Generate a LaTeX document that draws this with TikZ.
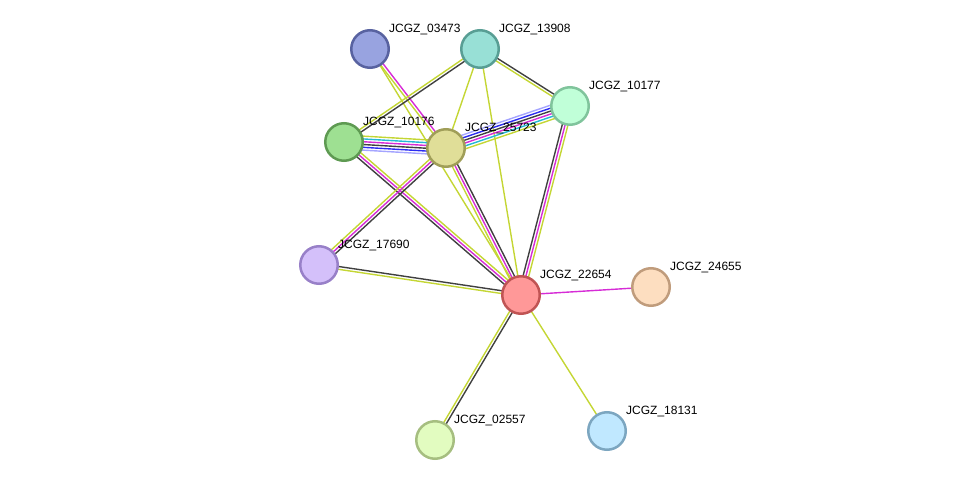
\documentclass[tikz,border=0pt]{standalone}
\usepackage{fontspec}
\setmainfont{Liberation Sans}
\usetikzlibrary{calc,backgrounds}

% evidence colours
\definecolor{TextMining}{RGB}{196,214,52}
\definecolor{Experiments}{RGB}{214,44,214}
\definecolor{Coexpression}{RGB}{64,64,64}
\definecolor{Databases}{RGB}{36,184,212}
\definecolor{Cooccurrence}{RGB}{44,44,240}
\definecolor{Homology}{RGB}{164,164,255}

% a bundle of parallel lines between two nodes
\newcommand{\Bundle}[4]{%
  \foreach \c [count=\i] in {#4} {%
    \pgfmathsetmacro{\off}{((#3+1)/2-\i)*2.8}
    \draw[EdgeStyle, draw=\c] ($(#1.center)!\off pt!90:(#2.center)$) -- ($(#2.center)!\off pt!-90:(#1.center)$);
  }}

\begin{document}
\begin{tikzpicture}[x=1pt, y=-1pt]
  \useasboundingbox (0,0) rectangle (976,486);
  \tikzset{NodeStyle/.style = {shape=circle, line width=2.5pt, minimum size=37.5pt, inner sep=0pt}}
  \tikzset{LabelStyle/.style = {font=\fontsize{12pt}{14pt}\selectfont, text=black, inner sep=0pt, anchor=base west, xshift=19pt, yshift=16.7pt}}
  \tikzset{EdgeStyle/.style = {line width=1.4pt}}

  \node(03473)[NodeStyle, fill={rgb,255:red,152;green,163;blue,224}, draw={rgb,255:red,88;green,98;blue,160}] at (370,49) {};
  \node(13908)[NodeStyle, fill={rgb,255:red,152;green,224;blue,214}, draw={rgb,255:red,88;green,158;blue,148}] at (480,49) {};
  \node(10177)[NodeStyle, fill={rgb,255:red,192;green,255;blue,216}, draw={rgb,255:red,128;green,196;blue,156}] at (570,106) {};
  \node(10176)[NodeStyle, fill={rgb,255:red,158;green,224;blue,146}, draw={rgb,255:red,94;green,154;blue,82}] at (344,142) {};
  \node(25723)[NodeStyle, fill={rgb,255:red,224;green,222;blue,152}, draw={rgb,255:red,160;green,158;blue,88}] at (446,148) {};
  \node(17690)[NodeStyle, fill={rgb,255:red,212;green,192;blue,250}, draw={rgb,255:red,152;green,128;blue,200}] at (319,265) {};
  \node(22654)[NodeStyle, fill={rgb,255:red,255;green,152;blue,152}, draw={rgb,255:red,192;green,84;blue,84}] at (521,295) {};
  \node(24655)[NodeStyle, fill={rgb,255:red,253;green,222;blue,192}, draw={rgb,255:red,192;green,156;blue,124}] at (651,287) {};
  \node(02557)[NodeStyle, fill={rgb,255:red,226;green,252;blue,192}, draw={rgb,255:red,166;green,190;blue,128}] at (435,440) {};
  \node(18131)[NodeStyle, fill={rgb,255:red,192;green,232;blue,255}, draw={rgb,255:red,124;green,166;blue,192}] at (607,431) {};

  \node(l03473)[LabelStyle] at (03473.center) {JCGZ\_03473};
  \node(l13908)[LabelStyle] at (13908.center) {JCGZ\_13908};
  \node(l10177)[LabelStyle] at (10177.center) {JCGZ\_10177};
  \node(l10176)[LabelStyle] at (10176.center) {JCGZ\_10176};
  \node(l25723)[LabelStyle] at (25723.center) {JCGZ\_25723};
  \node(l17690)[LabelStyle] at (17690.center) {JCGZ\_17690};
  \node(l22654)[LabelStyle] at (22654.center) {JCGZ\_22654};
  \node(l24655)[LabelStyle] at (24655.center) {JCGZ\_24655};
  \node(l02557)[LabelStyle] at (02557.center) {JCGZ\_02557};
  \node(l18131)[LabelStyle] at (18131.center) {JCGZ\_18131};

  \begin{pgfonlayer}{background}
    \Bundle{03473}{25723}{2}{Experiments,TextMining}
    \Bundle{03473}{22654}{1}{TextMining}
    \Bundle{10176}{13908}{2}{TextMining,Coexpression}
    \Bundle{13908}{25723}{1}{TextMining}
    \Bundle{13908}{22654}{1}{TextMining}
    \Bundle{13908}{10177}{2}{Coexpression,TextMining}
    \Bundle{25723}{10177}{6}{Homology,Cooccurrence,Coexpression,Experiments,Databases,TextMining}
    \Bundle{10176}{25723}{6}{TextMining,Databases,Experiments,Coexpression,Cooccurrence,Homology}
    \Bundle{22654}{10177}{3}{Coexpression,Experiments,TextMining}
    \Bundle{10176}{22654}{3}{TextMining,Experiments,Coexpression}
    \Bundle{17690}{25723}{3}{TextMining,Experiments,Coexpression}
    \Bundle{25723}{22654}{3}{Coexpression,Experiments,TextMining}
    \Bundle{17690}{22654}{2}{Coexpression,TextMining}
    \Bundle{02557}{22654}{2}{TextMining,Coexpression}
    \Bundle{22654}{24655}{1}{Experiments}
    \Bundle{22654}{18131}{1}{TextMining}
  \end{pgfonlayer}

\end{tikzpicture}
\end{document}
